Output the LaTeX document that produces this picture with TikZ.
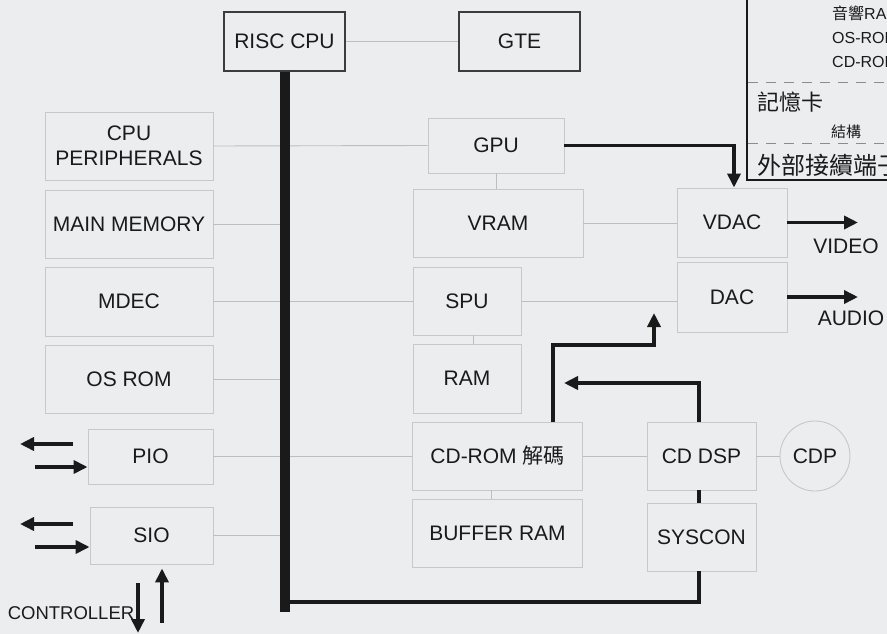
\documentclass[tikz,border=0pt]{standalone}
\usepackage{fontspec}
\setmainfont{Liberation Sans}
\newfontfamily\cjk{Noto Sans CJK TC}
\usetikzlibrary{arrows.meta,calc}
\definecolor{bg}{HTML}{EBEDEE}
\definecolor{boxline}{HTML}{C6C8CA}
\definecolor{wirecol}{HTML}{BCBEC0}
\definecolor{ink}{HTML}{1A1A1A}
\definecolor{dashcol}{HTML}{8A8C8E}
\begin{document}
\begin{tikzpicture}[x=1pt,y=-1pt,
  box/.style={draw=boxline,line width=0.9pt,inner sep=0pt,align=center,
    font=\fontsize{21}{25}\selectfont,text=ink},
  darkbox/.style={box,draw=ink!85,line width=1.4pt},
  wire/.style={draw=wirecol,line width=0.9pt},
  bus/.style={draw=ink,line width=10pt},
  thickline/.style={draw=ink,line width=3.5pt},
  arr/.style={draw=ink,line width=3.5pt,-{Triangle[length=14pt,width=13pt]}},
  lbl/.style={inner sep=0pt,text=ink,font=\fontsize{21}{25}\selectfont},
  small/.style={inner sep=0pt,anchor=west,text=ink,font=\fontsize{16}{18}\selectfont}]
\fill[bg] (0,0) rectangle (887,634);
\useasboundingbox (0,0) rectangle (887,634);
\clip (0,0) rectangle (887,634);

% top-right panel
\draw[ink,line width=2pt] (747,-20) rectangle (900,180);
\draw[dashcol,line width=1pt,dash pattern=on 10pt off 8pt] (748,83) -- (887,83);
\draw[dashcol,line width=1pt,dash pattern=on 10pt off 8pt] (748,143) -- (887,143);
\node[small] (p1) at (832,13) {{\cjk 音響}RAM};
\node[small] (p2) at (832,38) {OS-ROM};
\node[small] (p3) at (832,62) {CD-ROM};
\node[small,font=\fontsize{22}{24}\selectfont\cjk] (p4) at (757,102) {記憶卡};
\node[small,font=\fontsize{15}{17}\selectfont\cjk] (p5) at (831,132) {結構};
\node[small,font=\fontsize{24}{26}\selectfont\cjk] (p6) at (757,165) {外部接續端子};

% nodes
\node[darkbox,minimum width=121pt,minimum height=59pt] (risc) at (284.5,41.5) {RISC CPU};
\node[darkbox,minimum width=121pt,minimum height=59pt] (gte) at (519.5,41.5) {GTE};
\node[box,minimum width=168pt,minimum height=68pt] (cpuper) at (129,146) {CPU\\PERIPHERALS};
\node[box,minimum width=168pt,minimum height=68pt] (mainmem) at (129,224) {MAIN MEMORY};
\node[box,minimum width=168pt,minimum height=69pt] (mdec) at (129,301.5) {MDEC};
\node[box,minimum width=168pt,minimum height=68pt] (osrom) at (129,379) {OS ROM};
\node[box,minimum width=125pt,minimum height=55pt] (pio) at (150.5,456.5) {PIO};
\node[box,minimum width=123pt,minimum height=57pt] (sio) at (151.5,535.5) {SIO};
\node[box,minimum width=136pt,minimum height=55pt] (gpu) at (496,145.5) {GPU};
\node[box,minimum width=170pt,minimum height=68pt] (vram) at (498,223) {VRAM};
\node[box,minimum width=108pt,minimum height=68pt] (spu) at (467,301) {SPU};
\node[box,minimum width=108pt,minimum height=69pt] (ram) at (467,378.5) {RAM};
\node[box,minimum width=170pt,minimum height=68pt] (cdrom) at (497.5,456) {CD-ROM {\cjk 解碼}};
\node[box,minimum width=170pt,minimum height=68pt] (bufram) at (497.5,533) {BUFFER RAM};
\node[box,minimum width=110pt,minimum height=69pt] (vdac) at (732,222.5) {VDAC};
\node[box,minimum width=110pt,minimum height=70pt] (dac) at (732,297) {DAC};
\node[box,minimum width=109pt,minimum height=68pt] (cddsp) at (701.5,456) {CD DSP};
\node[box,minimum width=109pt,minimum height=68pt] (syscon) at (701.5,537) {SYSCON};
\node[box,circle,minimum size=70pt] (cdp) at (815,456) {CDP};

\node[lbl] (video) at (846,246) {VIDEO};
\node[lbl] (audio) at (851,318) {AUDIO};
\node[lbl,font=\fontsize{18.5}{20}\selectfont] (ctrl) at (71,613) {CONTROLLER};

% coordinates
\coordinate (busEnd) at (284.5,612);
\coordinate (busJoin) at (284.5,602);
\coordinate (vtip) at (858,222.5);
\coordinate (atip) at (858,297);
\coordinate (c1corner) at (654,345);
\coordinate (c1tip) at (654,313);
\coordinate (c2tip) at (564,383);
\coordinate (pioL0) at (73,444);
\coordinate (pioL1) at (20,444);
\coordinate (pioR0) at (35,467);
\coordinate (sioL0) at (73,524);
\coordinate (sioL1) at (20,524);
\coordinate (sioR0) at (35,547);
\coordinate (ctD0) at (138,583);
\coordinate (ctD1) at (138,633);
\coordinate (ctU0) at (162,623);

% thin wires
\draw[wire] (risc.east) -- (gte.west);
\draw[wire] (cpuper.east) -- (gpu.west);
\draw[wire] (mainmem.east) -- (mainmem.east -| busEnd);
\draw[wire] (mdec.east) -- (mdec.east -| spu.west);
\draw[wire] (osrom.east) -- (osrom.east -| busEnd);
\draw[wire] (pio.east) -- (pio.east -| cdrom.west);
\draw[wire] (sio.east) -- (sio.east -| busEnd);
\draw[wire] (gpu.south) -- (gpu.south |- vram.north);
\draw[wire] (vram.east) -- (vram.east -| vdac.west);
\draw[wire] (spu.east) -- (spu.east -| dac.west);
\draw[wire] ([xshift=6pt]spu.south) -- ([xshift=6pt]ram.north);
\draw[wire] ([xshift=-6.5pt]cdrom.south) -- ([xshift=-6.5pt]bufram.north);
\draw[wire] (cdrom.east) -- (cddsp.west);
\draw[wire] (cddsp.east) -- (cdp.west);

% bus
\draw[bus] (risc.south) -- (busEnd);
\draw[thickline] ([xshift=-2.5pt]syscon.south) |- (busJoin);
\draw[thickline] ([xshift=-2.5pt]cddsp.south) -- ([xshift=-2.5pt]syscon.north);

% thick arrows
\draw[arr] (gpu.east) -| ([xshift=2pt]vdac.north);
\draw[arr] ([xshift=55.5pt]cdrom.north) |- (c1corner) -- (c1tip);
\draw[arr] ([xshift=-2.5pt]cddsp.north) |- (c2tip);
\draw[arr] (vdac.east) -- (vtip);
\draw[arr] (dac.east) -- (atip);
\draw[arr] (pioL0) -- (pioL1);
\draw[arr] (pioR0) -- (pioR0 -| pio.west);
\draw[arr] (sioL0) -- (sioL1);
\draw[arr] (sioR0) -- (sioR0 -| sio.west);
\draw[arr] (ctD0) -- (ctD1);
\draw[arr] (ctU0) -- ([xshift=10.5pt,yshift=-4pt]sio.south);
\end{tikzpicture}
\end{document}
